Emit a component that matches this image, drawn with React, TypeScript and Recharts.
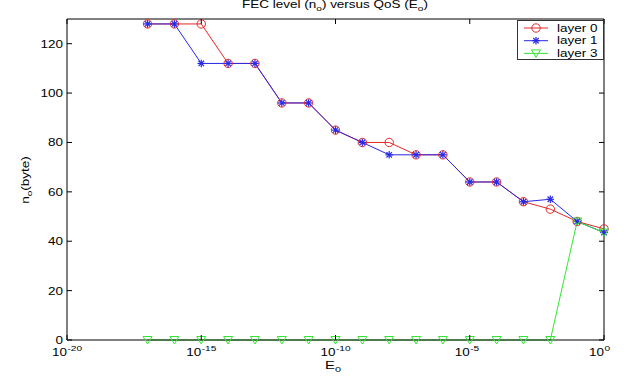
import React from 'react';
import { LineChart, Line, XAxis, YAxis, Legend } from 'recharts';

// E0 (QoS) values on the log x axis
const qosValues = [1e-17, 1e-16, 1e-15, 1e-14, 1e-13, 1e-12, 1e-11, 1e-10, 1e-9, 1e-8, 1e-7, 1e-6, 1e-5, 1e-4, 1e-3, 1e-2, 1e-1, 1e0];
// n0 (byte) per layer
const layer0 = [128, 128, 128, 112, 112, 96, 96, 85, 80, 80, 75, 75, 64, 64, 56, 53, 48, 45];
const layer1 = [128, 128, 112, 112, 112, 96, 96, 85, 80, 75, 75, 75, 64, 64, 56, 57, 48, 43.5];
const layer3 = [0, 0, 0, 0, 0, 0, 0, 0, 0, 0, 0, 0, 0, 0, 0, 0, 48, 43.5];

const seriesNames = ['layer 0', 'layer 1', 'layer 3'];
const xTicks = [1e-20, 1e-15, 1e-10, 1e-5, 1];
const yTicks = [0, 20, 40, 60, 80, 100, 120];

const data = qosValues.map((e, i) => ({ e, l0: layer0[i], l1: layer1[i], l3: layer3[i] }));

const FONT = '"Liberation Sans", Arial, sans-serif';
const SX = 1.35;
const RED = '#e62828';
const BLUE = '#2828e6';
const GREEN = '#33e633';

const Circle = (props: any) => {
  const { cx, cy } = props;
  if (cx == null || cy == null) return null;
  return <circle cx={cx} cy={cy} r={4.2} fill="none" stroke={RED} strokeWidth={1} />;
};
const Star = (props: any) => {
  const { cx, cy } = props;
  if (cx == null || cy == null) return null;
  const r = 3.8;
  const d = r * 0.72;
  return (
    <g stroke={BLUE} strokeWidth={1.2}>
      <line x1={cx - r} x2={cx + r} y1={cy} y2={cy} />
      <line x1={cx} x2={cx} y1={cy - r} y2={cy + r} />
      <line x1={cx - d} x2={cx + d} y1={cy - d} y2={cy + d} />
      <line x1={cx - d} x2={cx + d} y1={cy + d} y2={cy - d} />
    </g>
  );
};
const Tri = (props: any) => {
  const { cx, cy } = props;
  if (cx == null || cy == null) return null;
  const w = 4.5;
  return <path d={`M${cx - w},${cy - 3.5} L${cx + w},${cy - 3.5} L${cx},${cy + 4} Z`} fill="none" stroke={GREEN} strokeWidth={1} />;
};

const stretched = (x: number, y: number, anchor: string, size: number, children: any) => (
  <text transform={`translate(${x},${y}) scale(${SX},1)`} textAnchor={anchor as any} fontSize={size} fontFamily={FONT} fill="#000">
    {children}
  </text>
);

const BottomTick = (props: any) => {
  const { x, y, payload } = props;
  const exp = Math.round(Math.log10(payload.value));
  return (
    <g>
      <line x1={x} x2={x} y1={y} y2={y - 5} stroke="#000" />
      {stretched(x, y + 16, 'end', 10, '10')}
      {stretched(x + 0.5, y + 11, 'start', 7.5, String(exp))}
    </g>
  );
};
const TopTick = (props: any) => {
  const { x, y } = props;
  return <line x1={x} x2={x} y1={y} y2={y + 5} stroke="#000" />;
};
const LeftTick = (props: any) => {
  const { x, y, payload } = props;
  return (
    <g>
      <line x1={x} x2={x + 5} y1={y} y2={y} stroke="#000" />
      {stretched(x - 4, y + 4, 'end', 10, String(payload.value))}
    </g>
  );
};
const RightTick = (props: any) => {
  const { x, y } = props;
  return <line x1={x} x2={x - 5} y1={y} y2={y} stroke="#000" />;
};

const LegendBox = () => {
  const colors = [RED, BLUE, GREEN];
  const markers = [Circle, Star, Tri];
  return (
    <div style={{ width: 87, height: 40, border: '1px solid #333', background: '#fff', boxSizing: 'border-box', position: 'relative' }}>
      <svg width={87} height={40} style={{ display: 'block', position: 'absolute', left: 0, top: 0 }}>
        {seriesNames.map((name, i) => {
          const y = 7 + i * 12.7;
          const M = markers[i];
          return (
            <g key={name}>
              <line x1={6} x2={30} y1={y} y2={y} stroke={colors[i]} strokeWidth={1} />
              <M cx={18} cy={y} />
              {stretched(39, y + 3.5, 'start', 10, name)}
            </g>
          );
        })}
      </svg>
    </div>
  );
};

export default function App() {
  return (
    <div style={{ position: 'absolute', left: 0, top: 0, width: 626, height: 381, background: '#fff' }}>
      <LineChart width={626} height={381} data={data} margin={{ top: 18, right: 21, bottom: 0, left: 0 }}>
        <XAxis xAxisId="b" dataKey="e" type="number" scale="log" domain={[1e-20, 1]} ticks={xTicks}
          height={41} tickSize={0} tickMargin={0} tickLine={false} tick={<BottomTick />} stroke="#000" interval={0} />
        <XAxis xAxisId="t" orientation="top" dataKey="e" type="number" scale="log" domain={[1e-20, 1]} ticks={xTicks}
          height={1} tickSize={0} tickMargin={0} tickLine={false} tick={<TopTick />} stroke="#000" interval={0} />
        <YAxis yAxisId="l" type="number" domain={[0, 130]} ticks={yTicks} width={67}
          tickSize={0} tickMargin={0} tickLine={false} tick={<LeftTick />} stroke="#000" interval={0} />
        <YAxis yAxisId="r" orientation="right" type="number" domain={[0, 130]} ticks={yTicks} width={1}
          tickSize={0} tickMargin={0} tickLine={false} tick={<RightTick />} stroke="#000" interval={0} />
        <Legend layout="vertical" align="center" verticalAlign="middle" content={<LegendBox />}
          wrapperStyle={{ position: 'absolute', left: 517, top: 20, width: 87, height: 40 }} />
        <Line xAxisId="b" yAxisId="l" dataKey="l0" name={seriesNames[0]} stroke={RED} strokeWidth={1} dot={<Circle />} isAnimationActive={false} />
        <Line xAxisId="t" yAxisId="r" dataKey="l1" name={seriesNames[1]} stroke={BLUE} strokeWidth={1} dot={<Star />} isAnimationActive={false} />
        <Line xAxisId="b" yAxisId="l" dataKey="l3" name={seriesNames[2]} stroke={GREEN} strokeWidth={1} dot={<Tri />} isAnimationActive={false} />
        <text transform={`translate(335,8) scale(${SX},1)`} textAnchor="middle" fontSize={10} fontFamily={FONT} fill="#000">
          FEC level (n<tspan fontSize={7.5} dy={3}>o</tspan><tspan dy={-3}>) versus QoS (E</tspan><tspan fontSize={7.5} dy={3}>o</tspan><tspan dy={-3}>)</tspan>
        </text>
        <text transform={`translate(333,369) scale(${SX},1)`} textAnchor="middle" fontSize={11} fontFamily={FONT} fill="#000">
          E<tspan fontSize={8} dy={3}>0</tspan>
        </text>
        <text transform={`translate(29,180) rotate(-90) scale(${SX},1)`} textAnchor="middle" fontSize={10} fontFamily={FONT} fill="#000">
          n<tspan fontSize={7.5} dy={3}>o</tspan><tspan dy={-3}>(byte)</tspan>
        </text>
      </LineChart>
    </div>
  );
}
